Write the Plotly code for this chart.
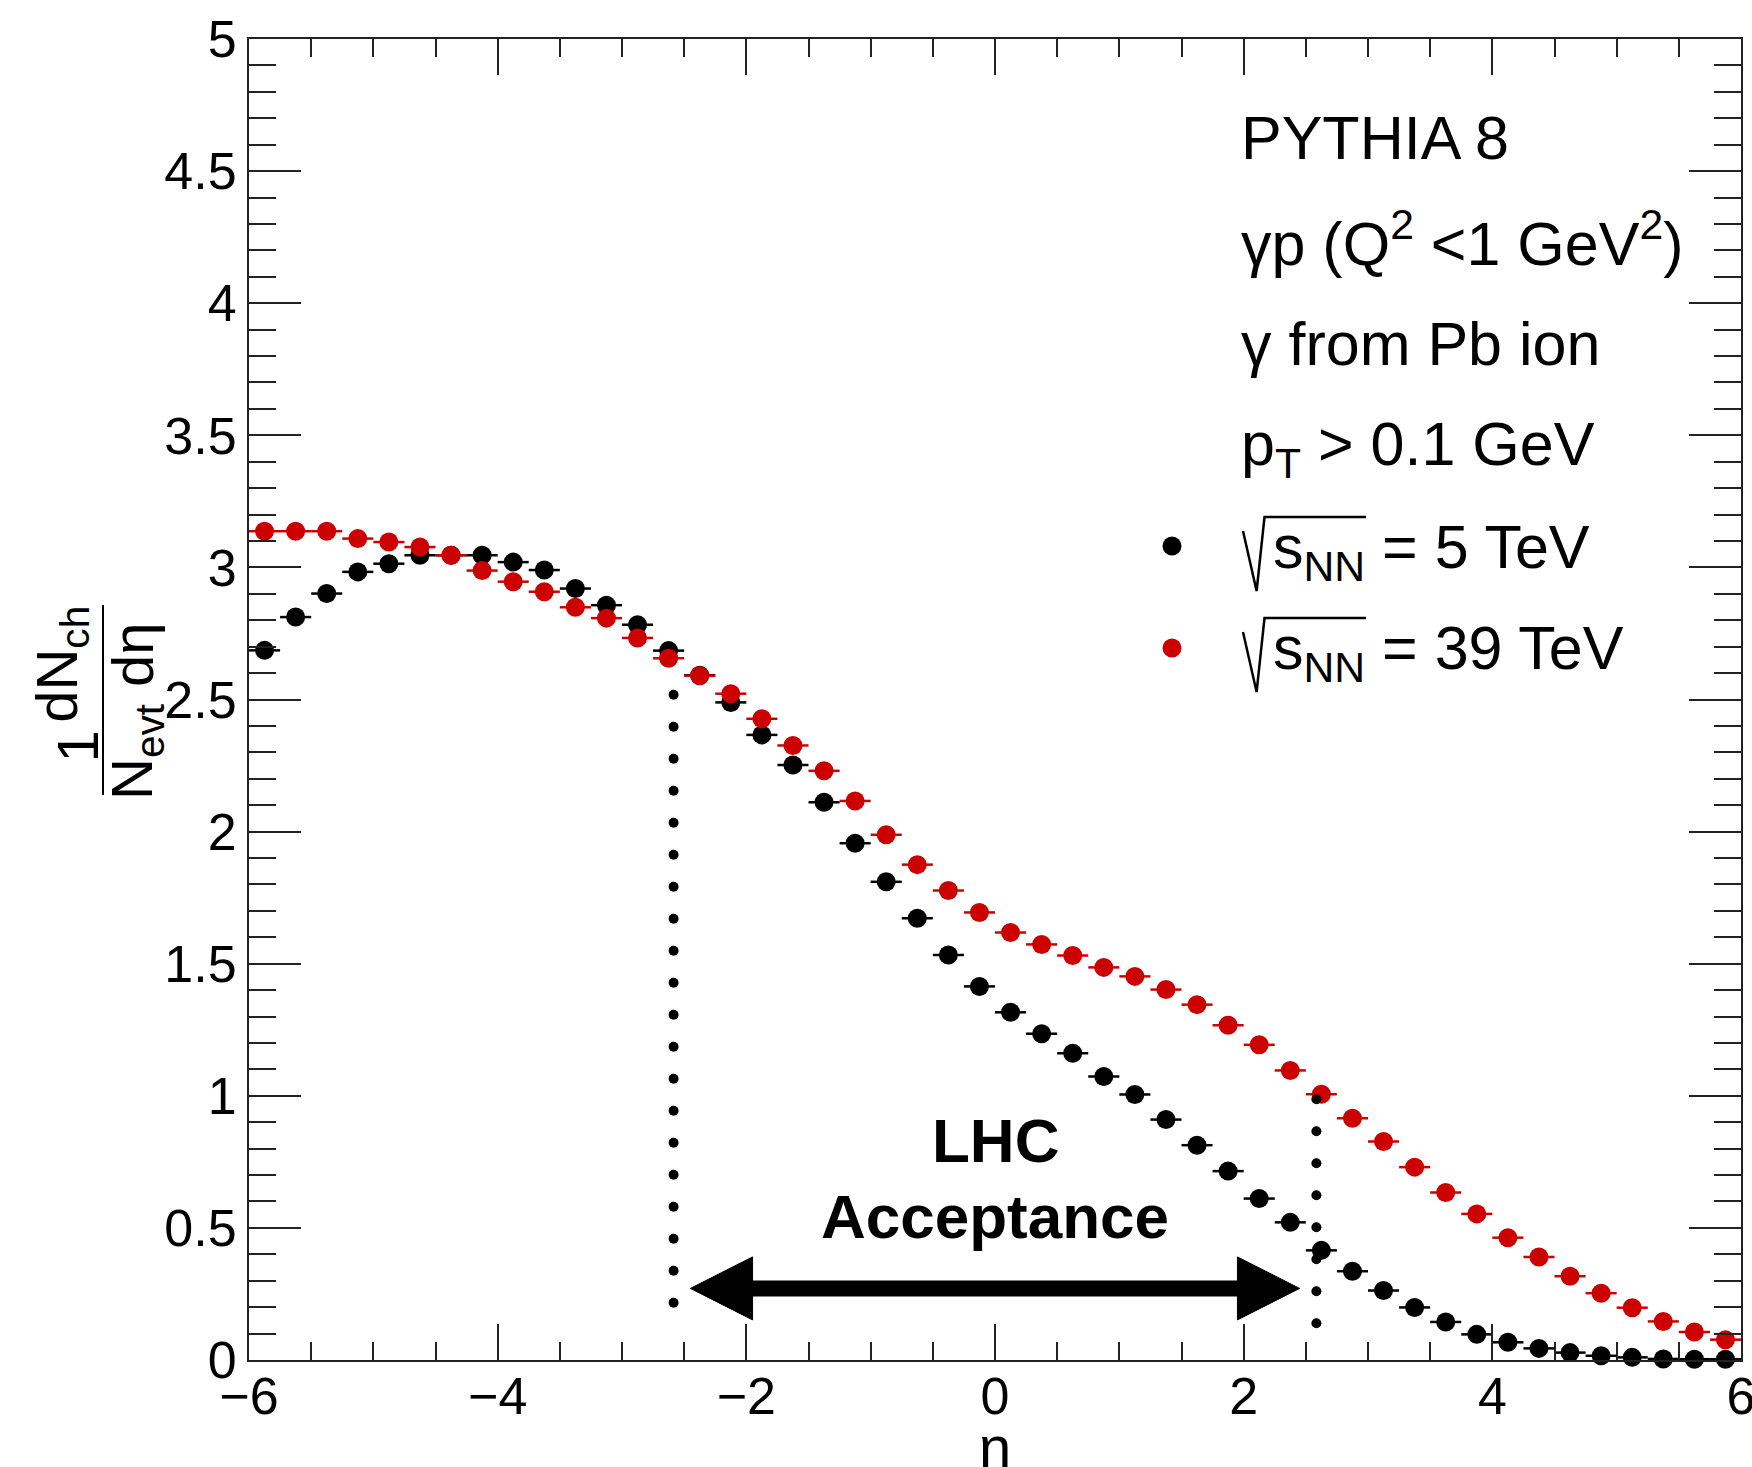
import plotly.graph_objects as go

# ---------------- data ----------------
ETA = [-5.875, -5.625, -5.375, -5.125, -4.875, -4.625, -4.375, -4.125,
       -3.875, -3.625, -3.375, -3.125, -2.875, -2.625, -2.375, -2.125,
       -1.875, -1.625, -1.375, -1.125, -0.875, -0.625, -0.375, -0.125,
       0.125, 0.375, 0.625, 0.875, 1.125, 1.375, 1.625, 1.875,
       2.125, 2.375, 2.625, 2.875, 3.125, 3.375, 3.625, 3.875,
       4.125, 4.375, 4.625, 4.875, 5.125, 5.375, 5.625, 5.875]
BIN_HALF = 0.125

DNDETA_5TEV = [2.686, 2.812, 2.901, 2.983, 3.014, 3.046, 3.046, 3.046,
               3.020, 2.990, 2.920, 2.857, 2.783, 2.685, 2.592, 2.489,
               2.366, 2.252, 2.111, 1.956, 1.810, 1.672, 1.533, 1.414,
               1.316, 1.235, 1.161, 1.073, 1.005, 0.910, 0.813, 0.715,
               0.611, 0.521, 0.415, 0.336, 0.263, 0.199, 0.144, 0.097,
               0.067, 0.044, 0.028, 0.016, 0.010, 0.004, 0.003, 0.003]

DNDETA_39TEV = [3.137, 3.137, 3.137, 3.109, 3.096, 3.077, 3.046, 2.988,
                2.946, 2.908, 2.849, 2.808, 2.733, 2.656, 2.590, 2.522,
                2.427, 2.326, 2.230, 2.116, 1.988, 1.875, 1.777, 1.694,
                1.618, 1.573, 1.531, 1.486, 1.452, 1.402, 1.345, 1.267,
                1.193, 1.096, 1.006, 0.915, 0.827, 0.730, 0.634, 0.553,
                0.463, 0.390, 0.317, 0.253, 0.198, 0.146, 0.106, 0.077]

SERIES_NAMES = ["5 TeV", "39 TeV"]
X_TICKS = [-6, -4, -2, 0, 2, 4, 6]
X_TICK_LABELS = ["\u22126", "\u22124", "\u22122", "0", "2", "4", "6"]
Y_TICKS = [0, 0.5, 1, 1.5, 2, 2.5, 3, 3.5, 4, 4.5, 5]
Y_TICK_LABELS = ["0", "0.5", "1", "1.5", "2", "2.5", "3", "3.5", "4", "4.5", "5"]

# LHC acceptance annotation
ACC_ETA = 2.585
ARROW_TIP = 2.45
ARROW_BASE = 1.95
ARROW_Y = 0.271

# ---------------- layout geometry ----------------
W, H = 1752, 1467
ML, MR, MT, MB = 249, 11, 39, 107
PW, PH = W - ML - MR, H - MT - MB
FONT = "Liberation Sans, Arial, Helvetica, sans-serif"
BLACK = "#000000"
RED = "#cc0000"
AXC = "#222222"


def px_x(px):
    return (px - ML) / PW


def px_y(py):
    return (H - MB - py) / PH


def data_x(px):
    return -6 + (px - ML) / PW * 12


def data_y(py):
    return (H - MB - py) / PH * 5


fig = go.Figure()

for name, vals, col in [(SERIES_NAMES[0], DNDETA_5TEV, BLACK),
                        (SERIES_NAMES[1], DNDETA_39TEV, RED)]:
    fig.add_trace(go.Scatter(
        x=ETA, y=vals, mode="markers", name=name, showlegend=False,
        marker=dict(color=col, size=19, line=dict(width=0)),
        error_x=dict(type="constant", value=BIN_HALF, width=0,
                     thickness=2.5, color=col),
        cliponaxis=False))

# dotted acceptance boundaries
DOT_STEP = 32.0 / PH * 5
left_dots = [0.217 + i * DOT_STEP for i in range(20)]
right_dots = [0.139 + i * DOT_STEP for i in range(8)]
fig.add_trace(go.Scatter(x=[-ACC_ETA] * len(left_dots), y=left_dots, mode="markers",
                         marker=dict(color=BLACK, size=10), showlegend=False))
fig.add_trace(go.Scatter(x=[ACC_ETA] * len(right_dots), y=right_dots, mode="markers",
                         marker=dict(color=BLACK, size=10), showlegend=False))

# legend markers
fig.add_trace(go.Scatter(x=[data_x(1172)], y=[data_y(546)], mode="markers",
                         marker=dict(color=BLACK, size=19), showlegend=False,
                         cliponaxis=False))
fig.add_trace(go.Scatter(x=[data_x(1172)], y=[data_y(648)], mode="markers",
                         marker=dict(color=RED, size=19), showlegend=False,
                         cliponaxis=False))

shapes = []
# arrow shaft and heads
shapes.append(dict(type="line", xref="x", yref="y", x0=-ARROW_BASE - 0.03, x1=ARROW_BASE + 0.03,
                   y0=ARROW_Y, y1=ARROW_Y, line=dict(color=BLACK, width=16)))
hh = 31.5 / PH * 5
for s in (-1, 1):
    shapes.append(dict(type="path", xref="x", yref="y",
                       path=f"M {s*ARROW_TIP},{ARROW_Y} L {s*ARROW_BASE},{ARROW_Y+hh} "
                            f"L {s*ARROW_BASE},{ARROW_Y-hh} Z",
                       fillcolor=BLACK, line=dict(color=BLACK, width=1)))

# radical signs for sqrt(s_NN)
for dy in (0, 101):
    pts = [(1243, 531 + dy), (1256.6, 591 + dy), (1264.5, 517 + dy), (1366, 517 + dy)]
    path = "M " + " L ".join(f"{px_x(a):.5f},{px_y(b):.5f}" for a, b in pts)
    shapes.append(dict(type="path", xref="paper", yref="paper", path=path,
                       line=dict(color=BLACK, width=2.5)))

# y-title fraction bar
shapes.append(dict(type="line", xref="paper", yref="paper",
                   x0=px_x(103), x1=px_x(103), y0=px_y(605), y1=px_y(795),
                   line=dict(color=BLACK, width=2)))

ann = []


def add_text(txt, px, py, size, xanchor="left", bold=False, angle=0):
    ann.append(dict(text=f"<b>{txt}</b>" if bold else txt,
                    xref="paper", yref="paper", x=px_x(px), y=px_y(py),
                    xanchor=xanchor, yanchor="middle", showarrow=False,
                    textangle=angle,
                    font=dict(family=FONT, size=size, color=BLACK)))


TF = 61
add_text("PYTHIA 8", 1239, 138, TF)
add_text("\u03b3p (Q<sup>2</sup> <1 GeV<sup>2</sup>)", 1239, 238.5, TF)
add_text("\u03b3 from Pb ion", 1239, 343.5, TF)
add_text("p<sub>T</sub> > 0.1 GeV", 1239, 448.5, TF)
add_text("s<sub>NN</sub> = 5 TeV", 1271, 551.5, TF)
add_text("s<sub>NN</sub> = 39 TeV", 1271, 652.5, TF)

add_text("LHC", 995, 1140.5, 62, xanchor="center", bold=True)
add_text("Acceptance", 995, 1216, 62, xanchor="center", bold=True)

# axis titles
add_text("\u03b7", 995, 1447, 58, xanchor="center")
add_text("1", 76.6, 747, 58, xanchor="center", angle=-90)
add_text("dN<sub>ch</sub>", 60.8, 664, 58, xanchor="center", angle=-90)
add_text("N<sub>evt</sub>", 136, 752, 58, xanchor="center", angle=-90)
add_text("d\u03b7", 132, 655, 58, xanchor="center", angle=-90)

axis_common = dict(showgrid=False, zeroline=False, showline=True, linecolor=AXC,
                   linewidth=2, mirror="allticks", ticks="inside", tickcolor=AXC,
                   tickwidth=2, automargin=False, ticklabeloverflow="allow",
                   tickfont=dict(family=FONT, size=52, color=BLACK))

fig.update_layout(
    template="none",
    width=W, height=H,
    margin=dict(l=ML, r=MR, t=MT, b=MB, pad=0, autoexpand=False),
    plot_bgcolor="white", paper_bgcolor="white",
    showlegend=False,
    xaxis=dict(range=[-6, 6], tickvals=X_TICKS, ticktext=X_TICK_LABELS,
               ticklen=36, ticklabelstandoff=-10,
               minor=dict(dtick=0.5, ticklen=18, ticks="inside", tickcolor=AXC, tickwidth=2),
               **axis_common),
    yaxis=dict(range=[0, 5], tickvals=Y_TICKS, ticktext=Y_TICK_LABELS,
               ticklen=52, ticklabelstandoff=0,
               minor=dict(dtick=0.1, ticklen=27, ticks="inside", tickcolor=AXC, tickwidth=2),
               **axis_common),
    shapes=shapes,
    annotations=ann,
)

fig.write_html("out.html", config={"displayModeBar": False},
               post_script="document.body.style.margin='0px';")
